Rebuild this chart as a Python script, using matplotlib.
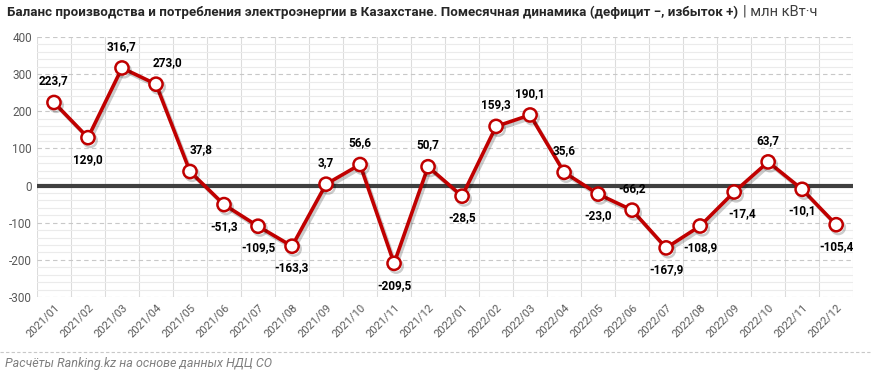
import matplotlib.pyplot as plt
import matplotlib.patheffects as pe
import numpy as np
from matplotlib.ticker import MultipleLocator

months = ['2021/01', '2021/02', '2021/03', '2021/04', '2021/05', '2021/06',
          '2021/07', '2021/08', '2021/09', '2021/10', '2021/11', '2021/12',
          '2022/01', '2022/02', '2022/03', '2022/04', '2022/05', '2022/06',
          '2022/07', '2022/08', '2022/09', '2022/10', '2022/11', '2022/12']
balance = [223.7, 129.0, 316.7, 273.0, 37.8, -51.3, -109.5, -163.3, 3.7, 56.6, -209.5, 50.7,
           -28.5, 159.3, 190.1, 35.6, -23.0, -66.2, -167.9, -108.9, -17.4, 63.7, -10.1, -105.4]
# where each value label sits: 1 = above the point, -1 = below
label_side = [1, -1, 1, 1, 1, -1, -1, -1, 1, 1, -1, 1,
              -1, 1, 1, 1, -1, 1, -1, -1, -1, 1, -1, -1]

plt.rcParams['font.family'] = ['Roboto', 'DejaVu Sans']
plt.rcParams['axes.unicode_minus'] = False

red = '#C00000'
grey = '#595959'

fig = plt.figure(figsize=(8.72, 3.74), dpi=100)
ax = fig.add_axes([0.0424, 0.206, 0.936, 0.695])

x = np.arange(len(months))

ax.set_xlim(-0.5, len(months) - 0.5)
ax.set_ylim(-300, 400)
ax.yaxis.set_major_locator(MultipleLocator(100))
ax.yaxis.set_minor_locator(MultipleLocator(20))
ax.grid(which='minor', axis='y', color='#ebebeb', linewidth=0.8)
ax.grid(which='major', axis='y', color='#c8c8c8', linewidth=0.8, linestyle=(0, (4, 3)))
for b in np.arange(-0.5, len(months), 1.0):
    ax.axvline(b, color='#dcdcdc', linewidth=0.8, zorder=0)
ax.set_axisbelow(True)
ax.axhline(0, color='#404040', linewidth=3, zorder=2)

ax.plot(x, balance, color=red, linewidth=2.6, marker='o', markersize=9.5,
        markerfacecolor='white', markeredgecolor=red, markeredgewidth=1.8, zorder=3,
        path_effects=[pe.SimpleLineShadow(offset=(1.5, -2), alpha=0.2), pe.Normal()])

# a couple of labels are pushed sideways so they clear the line
nudge = {3: 8, 4: 8, 20: 6}
for i, (xi, v, s) in enumerate(zip(x, balance, label_side)):
    txt = f'{v:.1f}'.replace('.', ',')
    ax.annotate(txt, (xi, v), xytext=(nudge.get(i, 0), 11 * s), textcoords='offset points',
                ha='center', va='bottom' if s > 0 else 'top',
                fontsize=8.5, fontweight='bold', color='black', zorder=4)

ax.set_xticks(x)
ax.set_xticklabels(months, rotation=45, ha='right', rotation_mode='anchor',
                   fontsize=8, color=grey)
ax.tick_params(axis='y', labelsize=8.5, labelcolor=grey, length=0)
ax.tick_params(axis='x', length=0, pad=4)
ax.tick_params(which='minor', length=0)
for sp in ax.spines.values():
    sp.set_visible(False)

title = fig.text(0.008, 0.968, 'Баланс производства и потребления электроэнергии в Казахстане. '
                 'Помесячная динамика (дефицит −, избыток +)', fontsize=11.5, fontweight='bold',
                 color='#262626', va='center', ha='left')
unit = fig.text(0.848, 0.968, '| млн кВт·ч', fontsize=10.5, color='#404040', va='center', ha='left')

# squeeze the title so it ends where the reference puts it (~735 px)
r = fig.canvas.get_renderer()
w = title.get_window_extent(r).width
title.set_fontsize(11.5 * 728 / w)
w2 = title.get_window_extent(r).x1
unit.set_x((w2 + 5) / 872)
uw = unit.get_window_extent(r).width
if unit.get_window_extent(r).x1 > 866:
    unit.set_fontsize(10.5 * (866 - w2 - 5) / uw)

fig.add_artist(plt.Line2D([0.0, 1.0], [0.058, 0.058], color='#c8c8c8', linewidth=0.8,
                          linestyle=(0, (3, 2)), transform=fig.transFigure))
fig.text(0.006, 0.027, 'Расчёты Ranking.kz на основе данных НДЦ СО', fontsize=9,
         style='italic', color='#7f7f7f', va='center', ha='left')

fig.savefig('out.png', dpi=100)
